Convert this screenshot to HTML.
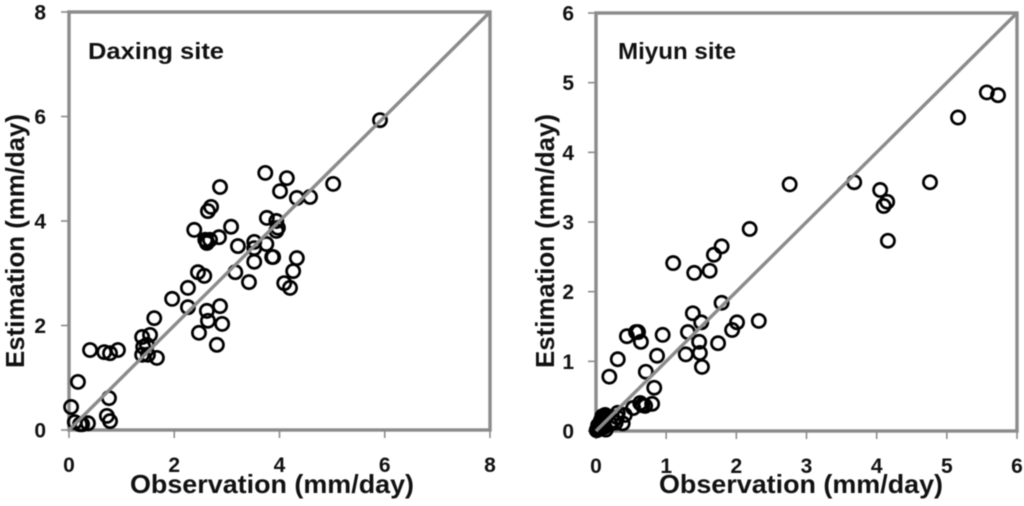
<!DOCTYPE html>
<html lang="en">
<head>
<meta charset="utf-8">
<title>Daxing and Miyun site scatter plots</title>
<style>
html,body{margin:0;padding:0;background:#fff;width:1024px;height:506px;overflow:hidden}
svg{display:block;filter:blur(0.4px)}
text{font-family:"Liberation Sans",sans-serif;font-weight:bold;fill:#111}
</style>
</head>
<body>
<svg id="chart" width="1024" height="506" viewBox="0 0 1024 506" xmlns="http://www.w3.org/2000/svg"></svg>
<script>
const daxingTicks = [0, 2, 4, 6, 8];
const miyunTicks = [0, 1, 2, 3, 4, 5, 6];
const xTitleText = "Observation (mm/day)";
const yTitleText = "Estimation (mm/day)";
const daxingObserved = [0.04,0.17,0.11,0.25,0.36,0.21,0.40,0.67,0.78,0.93,0.76,0.72,0.78,1.39,1.54,1.62,1.41,1.48,1.39,1.50,1.67,1.96,2.26,2.26,2.45,2.57,2.62,2.64,2.87,2.91,2.47,2.81,3.16,3.42,3.52,3.86,3.88,4.09,4.20,4.26,4.33,5.91,3.73,4.14,4.01,4.33,4.58,5.02,2.87,2.70,2.64,3.08,2.38,2.85,2.68,2.62,2.62,2.59,3.21,3.76,3.94,3.97,3.94,3.52,3.75,3.52];
const daxingEstimated = [0.44,0.92,0.15,0.11,0.13,0.11,1.53,1.49,1.47,1.53,0.61,0.27,0.17,1.78,1.82,2.14,1.59,1.63,1.44,1.44,1.38,2.51,2.72,2.35,3.02,2.95,2.28,2.09,2.37,2.03,1.86,1.63,3.02,2.83,3.22,3.31,3.31,2.81,2.72,3.04,3.29,5.93,4.92,4.82,4.57,4.44,4.46,4.71,4.65,4.27,4.19,3.89,3.83,3.69,3.64,3.60,3.58,3.64,3.52,4.06,4.00,3.87,3.81,3.60,3.56,3.48];
const miyunObserved = [0.19,0.31,0.44,0.60,0.57,0.64,0.95,0.87,0.71,0.83,0.80,0.70,0.63,0.66,0.53,0.38,0.31,0.41,1.38,1.50,1.31,1.47,1.28,1.48,1.51,1.74,1.79,1.94,2.01,2.32,5.57,5.73,5.16,4.76,3.68,2.76,4.05,4.15,4.10,4.16,2.19,1.79,1.68,1.62,1.40,1.10,0.02,0.05,0.08,0.03,0.06,0.10,0.12,0.14,0.10,0.04,0.14,0.12,0.20,0.01,0.07,0.09,0.13,0.25,0.30,0.28];
const miyunEstimated = [0.78,1.03,1.36,1.42,1.42,1.28,1.38,1.08,0.85,0.62,0.39,0.36,0.40,0.37,0.33,0.11,0.26,0.23,1.69,1.56,1.42,1.28,1.10,1.12,0.92,1.26,1.84,1.45,1.56,1.58,4.86,4.82,4.50,3.57,3.57,3.54,3.46,3.29,3.23,2.73,2.90,2.65,2.53,2.30,2.27,2.41,0.02,0.03,0.05,0.08,0.10,0.12,0.18,0.20,0.16,0.05,0.02,0.06,0.10,0.01,0.15,0.21,0.23,0.15,0.20,0.12];

const svgNS = "http://www.w3.org/2000/svg";
const root = document.getElementById("chart");
function make(parent, tag, attrs, txt) {
  const el = document.createElementNS(svgNS, tag);
  for (const k in attrs) el.setAttribute(k, attrs[k]);
  if (txt !== undefined) el.textContent = txt;
  parent.appendChild(el);
  return el;
}
function drawPanel(key, title, titleX, titleW, box, ticks, xs, ys, yTitleX, tickLabelX, xTitleX) {
  const maxV = ticks[ticks.length - 1];
  const sx = v => box.left + (v / maxV) * (box.right - box.left);
  const sy = v => box.bottom - (v / maxV) * (box.bottom - box.top);
  const g = make(root, "g", {});
  
  
  const axisColor = "#8b8b8b";

  const frame = make(g, "rect", {x: box.left, y: box.top, width: box.right - box.left, height: box.bottom - box.top, fill: "#fff", stroke: axisColor, "stroke-width": 3.4});
  
  

  ticks.forEach(t => {
    const xt = make(g, "line", {x1: sx(t), x2: sx(t), y1: box.bottom, y2: box.bottom + 8, stroke: axisColor, "stroke-width": 1.6});
    
    
    const yt = make(g, "line", {x1: box.left - 8, x2: box.left, y1: sy(t), y2: sy(t), stroke: axisColor, "stroke-width": 1.6});
    
    
    const xl = make(g, "text", {x: sx(t), y: box.bottom + 42, "text-anchor": "middle", "font-size": 21}, String(t));
    
    
    const yl = make(g, "text", {x: tickLabelX, y: sy(t) + 7.5, "text-anchor": "end", "font-size": 21}, String(t));
    
    
  });

  xs.forEach((v, i) => {
    const c = make(g, "circle", {cx: sx(v), cy: sy(ys[i]), r: 6.6, fill: "none", stroke: "#000", "stroke-width": 2.7});
    
    
  });

  const ref = make(g, "line", {x1: sx(0), y1: sy(0), x2: sx(maxV), y2: sy(maxV), stroke: axisColor, "stroke-width": 3.4});
  
  

  const note = make(g, "text", {x: titleX, y: 59, "font-size": 23, textLength: titleW, lengthAdjust: "spacingAndGlyphs"}, title);
  
  

  const xTitle = make(g, "text", {x: xTitleX, y: 493, "text-anchor": "middle", "font-size": 26, textLength: 284, lengthAdjust: "spacingAndGlyphs"}, xTitleText);
  
  

  const yCenter = 241;
  const yTitle = make(g, "text", {x: yTitleX, y: yCenter, "text-anchor": "middle", "font-size": 26, textLength: 254, lengthAdjust: "spacingAndGlyphs", transform: "rotate(-90 " + yTitleX + " " + yCenter + ")"}, yTitleText);
  
  
}
drawPanel("daxing", "Daxing site", 88, 136, {left: 69, right: 490, top: 12, bottom: 430}, daxingTicks, daxingObserved, daxingEstimated, 24, 46, 272);
drawPanel("miyun", "Miyun site", 618, 118, {left: 596, right: 1017, top: 13, bottom: 431}, miyunTicks, miyunObserved, miyunEstimated, 554, 574, 801);
</script>
</body>
</html>
